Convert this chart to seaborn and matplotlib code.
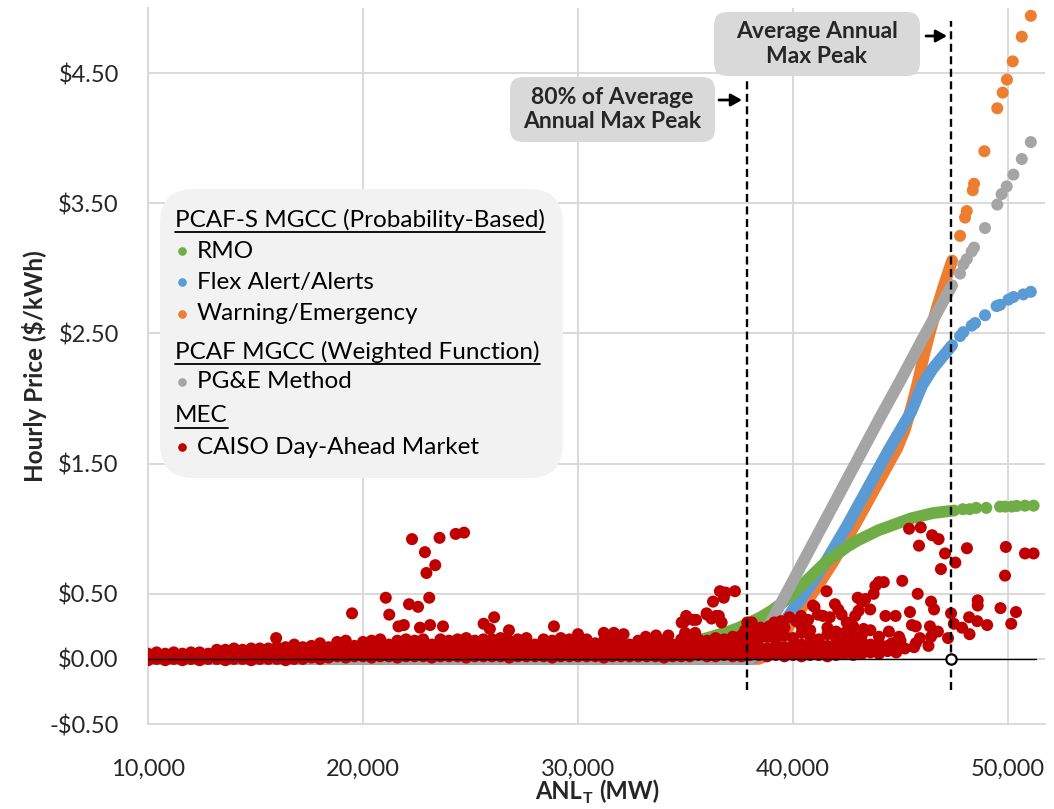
import numpy as np
import pandas as pd
import matplotlib
matplotlib.use("Agg")
import matplotlib.pyplot as plt
import seaborn as sns
from matplotlib.patches import FancyBboxPatch
from matplotlib.lines import Line2D
from matplotlib.transforms import Affine2D

nan = np.nan

# ---------------- data ----------------
# CAISO day-ahead market: dense band of hourly prices (rows of the band)
band_load = [
    10000, 10400, 10800, 11200, 11600, 12000, 12400, 12800, 13200, 13600,
    14000, 14400, 14800, 15200, 15600, 16000, 16400, 16800, 17200, 17600,
    18000, 18400, 18800, 19200, 19600, 20000, 20400, 20800, 21200, 21600,
    22000, 22400, 22800, 23200, 23600, 24000, 24400, 24800, 25200, 25600,
    26000, 26400, 26800, 27200, 27600, 28000, 28400, 28800, 29200, 29600,
    30000, 30400, 30800, 31200, 31600, 32000, 32400, 32800, 33200, 33600,
    34000, 34400, 34800, 35200, 35600, 36000, 36400, 36800, 37200, 37600,
    38000]
band_low = [
    -0.01, 0.00, -0.01, 0.00, -0.01, 0.00, -0.01, 0.00, 0.00, -0.01,
    0.00, 0.00, -0.01, 0.00, 0.00, 0.00, -0.01, 0.00, 0.00, 0.01,
    0.00, 0.01, 0.02, 0.01, 0.02, 0.02, 0.01, 0.02, 0.02, 0.01,
    0.02, 0.02, 0.02, 0.01, 0.02, 0.02, 0.02, 0.01, 0.02, 0.02,
    0.02, 0.02, 0.01, 0.02, 0.02, 0.02, 0.02, 0.01, 0.02, 0.02,
    0.02, 0.02, 0.02, 0.01, 0.02, 0.02, 0.02, 0.02, 0.02, 0.02,
    0.01, 0.02, 0.02, 0.02, 0.03, 0.02, 0.02, 0.03, 0.02, 0.02,
    0.03]
band_mid = [
    0.04, 0.05, 0.04, 0.05, 0.04, 0.05, 0.05, 0.04, 0.05, 0.05,
    0.05, 0.06, 0.05, 0.05, 0.06, 0.05, 0.06, 0.06, 0.05, 0.06,
    0.06, 0.06, 0.07, 0.06, 0.06, 0.07, 0.06, 0.07, 0.06, 0.07,
    0.07, 0.06, 0.07, 0.07, 0.06, 0.07, 0.07, 0.06, 0.07, 0.07,
    0.06, 0.07, 0.07, 0.07, 0.06, 0.07, 0.07, 0.06, 0.07, 0.07,
    0.07, 0.06, 0.07, 0.07, 0.07, 0.06, 0.07, 0.07, 0.07, 0.06,
    0.07, 0.07, 0.07, 0.06, 0.07, 0.07, 0.08, 0.07, 0.07, 0.08,
    0.08]
band_high = [
    nan, nan, nan, nan, nan, nan, nan, nan, 0.07, 0.07,
    0.08, 0.07, 0.08, 0.08, 0.08, 0.09, 0.09, 0.10, 0.09, 0.10,
    0.10, 0.09, 0.10, 0.11, 0.10, 0.11, 0.11, 0.10, 0.11, 0.11,
    0.11, 0.12, 0.11, 0.11, 0.12, 0.11, 0.12, 0.12, 0.11, 0.12,
    0.12, 0.11, 0.12, 0.12, 0.12, 0.11, 0.12, 0.12, 0.11, 0.12,
    0.12, 0.11, 0.12, 0.11, 0.12, 0.12, 0.11, 0.12, 0.11, 0.12,
    0.12, 0.11, 0.12, 0.12, 0.11, 0.12, 0.12, 0.13, 0.12, 0.13,
    0.14]
band_top = [
    nan, nan, nan, nan, nan, nan, nan, nan, nan, nan,
    nan, nan, nan, nan, nan, nan, nan, 0.11, nan, nan,
    0.12, nan, 0.13, 0.14, nan, 0.13, 0.14, 0.15, nan, 0.14,
    0.15, 0.14, 0.15, nan, 0.15, 0.14, 0.15, 0.16, 0.14, 0.15,
    0.15, 0.16, 0.14, 0.15, 0.16, nan, 0.15, 0.14, 0.16, 0.15,
    0.14, 0.15, nan, 0.14, 0.15, 0.14, nan, 0.14, 0.15, 0.14,
    0.14, nan, 0.15, 0.14, 0.15, 0.14, 0.16, 0.15, 0.17, 0.18,
    0.20]

ext_load = [38400, 38800, 39200, 39600, 40000, 40400, 40800, 41200, 41600,
            42000, 42400, 42800, 43200, 43600, 44000, 44400, 44800, 45200]
ext_low = [0.03, 0.02, 0.03, 0.02, 0.03, 0.02, 0.03, 0.03, 0.02,
           0.03, 0.04, 0.03, 0.04, 0.05, 0.04, 0.06, 0.05, 0.08]
ext_lower_mid = [0.06, 0.05, 0.06, 0.06, 0.05, 0.06, 0.07, 0.05, 0.06,
                 0.06, 0.07, 0.06, 0.08, 0.07, 0.08, 0.09, 0.08, nan]
ext_mid = [0.09, 0.08, 0.10, 0.09, 0.10, 0.11, 0.09, 0.12, 0.10,
           0.09, 0.12, 0.10, 0.13, 0.11, 0.12, 0.10, 0.13, nan]
ext_high = [0.15, 0.17, 0.15, 0.18, 0.16, 0.20, 0.17, 0.15, 0.19,
            0.16, 0.20, 0.14, 0.18, nan, 0.17, nan, nan, nan]
ext_top = [0.22, nan, 0.21, 0.24, nan, 0.25, 0.22, nan, 0.24,
           0.21, nan, 0.25, nan, 0.22, nan, nan, nan, nan]

# CAISO day-ahead market: scattered hours above the band
spike_load = [
    15960, 19490, 21060, 21220, 21650, 21900, 22140, 22280, 22560, 22650,
    22880, 22950, 23080, 23120, 23360, 23560, 23720, 24310, 24700, 25610,
    25900, 26100, 26790, 28880, 30000, 31200, 31670, 32120, 33150, 33630,
    34200, 34820, 34910, 34980, 35030, 35350, 35450, 35490, 35980, 36000,
    36210, 36280, 36420, 36550, 36600, 36680, 36780, 36860, 37300, 37770,
    37875, 38080, 38110, 38500, 38890, 39130, 39440, 39830, 40150, 40380,
    40700, 40930, 41000, 41160, 41400, 41560, 41710, 41950, 42100, 42260,
    42500, 42730, 42890, 43010, 43050, 43200, 43280, 43360, 43590, 43750,
    43830, 43990, 44220, 44300, 44460, 44600, 44770, 44930, 45000, 45080,
    45400, 45440, 45530, 45630, 45710, 45710, 45800, 45860, 45900, 45940,
    46300, 46370, 46420, 46420, 46470, 46560, 46740, 46770, 46880, 47070,
    47210, 47350, 47480, 47550, 47860, 48090, 48190, 48210, 48570, 48590,
    48590, 49030, 49650, 49860, 49900, 50150, 50370, 50790, 51190]
spike_price = [
    0.16, 0.35, 0.47, 0.34, 0.25, 0.26, 0.42, 0.92, 0.40, 0.24,
    0.82, 0.66, 0.47, 0.26, 0.72, 0.93, 0.25, 0.96, 0.97, 0.27,
    0.23, 0.32, 0.22, 0.25, 0.19, 0.20, 0.20, 0.19, 0.17, 0.18,
    0.18, 0.28, 0.28, 0.20, 0.33, 0.30, 0.20, 0.30, 0.35, 0.34,
    0.31, 0.44, 0.33, 0.33, 0.52, 0.28, 0.47, 0.51, 0.52, 0.22,
    0.28, 0.28, 0.21, 0.24, 0.25, 0.28, 0.29, 0.32, 0.29, 0.33,
    0.30, 0.41, 0.40, 0.34, 0.33, 0.52, 0.32, 0.42, 0.38, 0.34,
    0.28, 0.21, 0.33, 0.47, 0.37, 0.44, 0.23, 0.46, 0.38, 0.50,
    0.56, 0.59, 0.59, 0.33, 0.21, 0.12, 0.33, 0.17, 0.14, 0.60,
    1.00, 0.36, 0.26, 0.09, 0.25, 0.12, 0.50, 0.87, 0.16, 1.01,
    0.10, 0.25, 0.44, 0.17, 0.95, 0.38, 0.21, 0.92, 0.69, 0.81,
    0.16, 0.35, 0.27, 0.74, 0.24, 0.85, 0.32, 0.19, 0.29, 0.45,
    0.41, 0.26, 0.39, 0.64, 0.86, 0.27, 0.36, 0.81, 0.81]

# PG&E method (weighted function)
pge_load = [10000, 38000, 38500, 39000, 40000, 41000, 42000, 43000, 44000,
            45000, 46000, 46500, 47000, 47400]
pge_price = [0.00, 0.00, 0.14, 0.29, 0.60, 0.91, 1.22, 1.53, 1.84,
             2.14, 2.45, 2.60, 2.75, 2.87]
pge_tail_load = [47770, 47920, 48080, 48310, 48420, 48930, 49500, 49700,
                 49940, 50250, 50640, 51060]
pge_tail_price = [2.96, 3.03, 3.07, 3.13, 3.16, 3.31, 3.49, 3.57,
                  3.63, 3.72, 3.84, 3.97]

# Flex Alert/Alerts
flex_load = [10000, 38000, 38500, 39000, 39500, 40000, 40500, 41000, 41500,
             42000, 42500, 43000, 43500, 44000, 44500, 45000, 45500, 46000,
             46500, 47000, 47400]
flex_price = [0.00, 0.00, 0.03, 0.12, 0.26, 0.38, 0.49, 0.61, 0.74,
              0.88, 1.02, 1.17, 1.32, 1.47, 1.62, 1.76, 1.90, 2.10,
              2.23, 2.33, 2.41]
flex_tail_load = [47770, 47920, 48310, 48470, 48930, 49470, 49630, 50020,
                  50250, 50710, 51060]
flex_tail_price = [2.48, 2.51, 2.56, 2.58, 2.64, 2.71, 2.72, 2.76,
                   2.78, 2.80, 2.82]

# Warning/Emergency
warn_load = [10000, 38400, 38850, 39350, 39850, 40350, 40850, 41350, 41850,
             42350, 42850, 43350, 43850, 44350, 44850, 45200, 45500, 45800,
             46100, 46400, 46700, 47000, 47400]
warn_price = [0.00, 0.00, 0.03, 0.12, 0.26, 0.38, 0.49, 0.61, 0.74,
              0.88, 1.02, 1.17, 1.32, 1.47, 1.62, 1.76, 1.93, 2.12,
              2.34, 2.53, 2.70, 2.86, 3.06]
warn_tail_load = [47770, 48000, 48080, 48360, 48420, 48900, 49500, 49750,
                  49950, 50220, 50640, 51060]
warn_tail_price = [3.25, 3.39, 3.44, 3.60, 3.65, 3.90, 4.23, 4.35,
                   4.45, 4.59, 4.78, 4.94]

# RMO
rmo_load = [10000, 20000, 25000, 30000, 32000, 34000, 35000, 36000, 37000,
            37500, 38000, 38500, 39000, 39500, 40000, 40500, 41000, 41500,
            42000, 42500, 43000, 43500, 44000, 44500, 45000, 45500, 46000,
            46500, 47000, 47500]
rmo_price = [0.00, 0.00, 0.01, 0.03, 0.05, 0.09, 0.12, 0.16, 0.21,
             0.24, 0.28, 0.32, 0.37, 0.43, 0.50, 0.58, 0.66, 0.74,
             0.80, 0.86, 0.91, 0.95, 0.99, 1.02, 1.05, 1.08, 1.10,
             1.12, 1.13, 1.14]
rmo_tail_load = [47900, 48210, 48520, 48990, 49630, 49860, 50170, 50400,
                 50790, 51190]
rmo_tail_price = [1.15, 1.15, 1.16, 1.16, 1.17, 1.17, 1.17, 1.175,
                  1.177, 1.177]

peak_load = 47350          # average annual max peak
peak80_load = 0.8 * peak_load

y_ticks = [-0.5, 0.0, 0.5, 1.5, 2.5, 3.5, 4.5]
y_tick_labels = ["-$0.50", "$0.00", "$0.50", "$1.50", "$2.50", "$3.50", "$4.50"]
x_ticks = [10000, 20000, 30000, 40000, 50000]
x_tick_labels = ["10,000", "20,000", "30,000", "40,000", "50,000"]

legend_rows = [
    ("header", "PCAF-S MGCC (Probability-Based)", None),
    ("item", "RMO", "#70ad47"),
    ("item", "Flex Alert/Alerts", "#5b9bd5"),
    ("item", "Warning/Emergency", "#ed7d31"),
    ("header", "PCAF MGCC (Weighted Function)", None),
    ("item", "PG&E Method", "#a5a5a5"),
    ("header", "MEC", None),
    ("item", "CAISO Day-Ahead Market", "#c00000"),
]

# ---------------- styling ----------------
sns.set_theme(style="white")
plt.rcParams["font.family"] = ["Lato", "DejaVu Sans"]

GREEN, BLUE, ORANGE, GREY, RED = "#70ad47", "#5b9bd5", "#ed7d31", "#a5a5a5", "#c00000"
GRID = "#d9d9d9"
TXT = "#262626"
FS = 17
FS_LEG = 17.5
DOT = 75
LW = 8.5

W, H = 1054, 809
fig = plt.figure(figsize=(W / 100, H / 100), dpi=100)
fig.patch.set_facecolor("white")
ax = fig.add_axes([148 / W, 1 - 724 / H, (1045 - 148) / W, (724 - 8) / H])

# pixel transform with origin at the top-left of the figure
px = Affine2D().scale(0.01, -0.01).translate(0, H / 100) + fig.dpi_scale_trans

# ---------------- data marks ----------------
def curve(xs, ys, color, z):
    sns.lineplot(x=xs, y=ys, color=color, lw=LW, estimator=None, sort=False,
                 solid_capstyle="round", solid_joinstyle="round", ax=ax, zorder=z)

def dots(xs, ys, color, z):
    sns.scatterplot(x=xs, y=ys, color=color, s=DOT, edgecolor="none",
                    linewidth=0, ax=ax, zorder=z, legend=False)

curve(warn_load, warn_price, ORANGE, 2)
dots(warn_tail_load, warn_tail_price, ORANGE, 2)
curve(flex_load, flex_price, BLUE, 3)
dots(flex_tail_load, flex_tail_price, BLUE, 3)
curve(rmo_load, rmo_price, GREEN, 4)
dots(rmo_tail_load, rmo_tail_price, GREEN, 4)
curve(pge_load, pge_price, GREY, 5)
dots(pge_tail_load, pge_tail_price, GREY, 5)

red = pd.concat([
    pd.DataFrame({"load": band_load, "price": band_low}),
    pd.DataFrame({"load": band_load, "price": band_mid}),
    pd.DataFrame({"load": band_load, "price": band_high}),
    pd.DataFrame({"load": band_load, "price": band_top}),
    pd.DataFrame({"load": ext_load, "price": ext_low}),
    pd.DataFrame({"load": ext_load, "price": ext_lower_mid}),
    pd.DataFrame({"load": ext_load, "price": ext_mid}),
    pd.DataFrame({"load": ext_load, "price": ext_high}),
    pd.DataFrame({"load": ext_load, "price": ext_top}),
    pd.DataFrame({"load": spike_load, "price": spike_price}),
]).dropna()
sns.scatterplot(data=red, x="load", y="price", color=RED, s=DOT, edgecolor="none",
                linewidth=0, ax=ax, zorder=6, legend=False)

# zero line, peak markers
ax.axhline(0, xmax=0.99, color="black", lw=1.0, zorder=7)
ax.plot([peak_load, peak_load], [-0.24, 4.90], color="black", lw=1.7,
        ls=(0, (3.4, 1.9)), zorder=8)
ax.plot([peak80_load, peak80_load], [-0.24, 4.44], color="black", lw=1.7,
        ls=(0, (3.4, 1.9)), zorder=8)
ax.scatter([peak_load], [0], s=55, facecolor="white", edgecolor="black",
           linewidth=1.6, zorder=9)

# ---------------- axes ----------------
ax.set_xlim(10000, 51720)
ax.set_ylim(-0.5, 5.0)
ax.set_xticks(x_ticks)
ax.set_xticklabels(x_tick_labels)
ax.set_yticks(y_ticks)
ax.set_yticklabels(y_tick_labels)
ax.tick_params(axis="both", length=0, labelsize=FS, labelcolor=TXT)
ax.tick_params(axis="x", pad=25)
ax.tick_params(axis="y", pad=21)
ax.grid(True, color=GRID, lw=1.4, zorder=0)
ax.set_axisbelow(True)
for side in ["top", "right"]:
    ax.spines[side].set_visible(False)
for side in ["left", "bottom"]:
    ax.spines[side].set_color(GRID)
    ax.spines[side].set_linewidth(1.4)

ax.set_ylabel("Hourly Price ($/kWh)", fontsize=17.5, fontweight="bold", color=TXT)
ax.yaxis.set_label_coords((47 - 148) / 897, 0.50)
ax.set_xlabel("")

# x-axis title "ANL_T (MW)" assembled from pieces so the subscript stays bold
xlab_parts = [("ANL", 17, 0, 0), ("T", 11.5, 4, 5), ("(MW)", 17, 0, 0)]
xlab_texts = [fig.text(0, 799 + dy, s, transform=px, fontsize=fs,
                       fontweight="bold", color=TXT, ha="left", va="baseline")
              for s, fs, dy, gap in xlab_parts]

# ---------------- legend panel ----------------
fig.add_artist(FancyBboxPatch((160, 189), 403, 289,
                              boxstyle="round,pad=0,rounding_size=34",
                              transform=px, facecolor="#f2f2f2",
                              edgecolor="none", zorder=10))
row_y = [220, 251, 282, 314, 352, 382, 416, 447]
headers = []
for (kind, label, color), yy in zip(legend_rows, row_y):
    if kind == "header":
        t = fig.text(175, yy, label, transform=px, fontsize=FS_LEG, color="black",
                     va="center", ha="left", zorder=11)
        headers.append((t, yy))
    else:
        fig.add_artist(Line2D([182], [yy], transform=px, marker="o", ms=6.2,
                              color=color, mec="none", ls="none", zorder=11))
        fig.text(197, yy, label, transform=px, fontsize=FS_LEG, color="black",
                 va="center", ha="left", zorder=11)

fig.canvas.draw()
renderer = fig.canvas.get_renderer()
for t, yy in headers:
    bb = t.get_window_extent(renderer)
    fig.add_artist(Line2D([bb.x0, bb.x1], [yy + 12, yy + 12], transform=px,
                          color="black", lw=1.3, zorder=11))

# lay the x-axis title pieces out side by side, centred under the plot
widths = [t.get_window_extent(renderer).width for t in xlab_texts]
total = sum(widths) + sum(p[3] for p in xlab_parts) + 1
x_cursor = (148 + 1045) / 2 - total / 2
for t, w_, (s, fs, dy, gap) in zip(xlab_texts, widths, xlab_parts):
    t.set_position((x_cursor, 799 + dy))
    x_cursor += w_ + gap + 1

# ---------------- peak annotations ----------------
for (bx, by, bw, bh, text, ax0, ax1, ay) in [
        (714, 12, 206, 64, "Average Annual\nMax Peak", 926, 947, 36),
        (510, 77, 205, 65, "80% of Average\nAnnual Max Peak", 719, 742, 100)]:
    fig.add_artist(FancyBboxPatch((bx, by), bw, bh,
                                  boxstyle="round,pad=0,rounding_size=13",
                                  transform=px, facecolor="#d9d9d9",
                                  edgecolor="none", zorder=10))
    fig.text(bx + bw / 2, by + bh / 2, text, transform=px, fontsize=16.5,
             fontweight="bold", color=TXT, ha="center", va="center",
             linespacing=1.2, zorder=11)
    ax.annotate("", xy=(ax1, ay), xytext=(ax0, ay), xycoords=px, textcoords=px,
                arrowprops=dict(arrowstyle="-|>,head_length=0.5,head_width=0.28",
                                mutation_scale=13, color="black", lw=2,
                                shrinkA=0, shrinkB=0), zorder=11)

fig.savefig("out.png", dpi=100, facecolor="white")
